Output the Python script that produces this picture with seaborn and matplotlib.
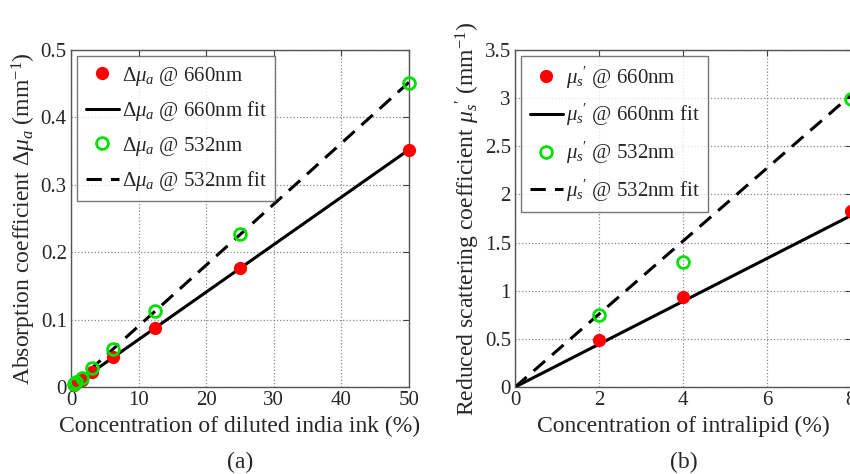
import numpy as np
import pandas as pd
import matplotlib
matplotlib.use('Agg')
import matplotlib.pyplot as plt
import seaborn as sns

# panel (a): diluted india ink
ink_conc = [0.39, 0.78, 1.56, 3.125, 6.25, 12.5, 25, 50]
ink_mua_660 = [0.003, 0.006, 0.011, 0.022, 0.044, 0.087, 0.177, 0.351]
ink_mua_532 = [0.004, 0.008, 0.014, 0.028, 0.056, 0.113, 0.227, 0.451]
ink_fit_x = [0, 50]
ink_fit_660 = [0, 0.352]
ink_fit_532 = [0, 0.452]

# panel (b): intralipid
lip_conc = [2, 4, 8]
lip_mus_660 = [0.49, 0.94, 1.83]
lip_mus_532 = [0.75, 1.30, 2.99]
lip_fit_x = [0, 8]
lip_fit_660 = [0, 1.78]
lip_fit_532 = [0, 3.03]

sns.set_style('white')
plt.rcParams['font.family'] = ['Liberation Serif', 'DejaVu Serif']
plt.rcParams['mathtext.fontset'] = 'custom'
plt.rcParams['mathtext.rm'] = 'Liberation Serif'
plt.rcParams['mathtext.it'] = 'Liberation Serif:italic'
plt.rcParams['mathtext.bf'] = 'Liberation Serif:bold'
plt.rcParams['font.size'] = 15

fig = plt.figure(figsize=(8.5, 4.74), dpi=100)
ax1 = fig.add_axes([0.0835, 0.1835, 0.3975, 0.711])
ax2 = fig.add_axes([0.606, 0.1835, 0.395, 0.711])


def draw(ax, x, y660, y532, fx, f660, f532, sym):
    pts = pd.DataFrame({'x': x, 'y660': y660, 'y532': y532})
    fit = pd.DataFrame({'x': fx, 'f660': f660, 'f532': f532})
    sns.lineplot(data=fit, x='x', y='f660', ax=ax, color='black', lw=2.2)
    l2 = ax.lines[-1]
    sns.lineplot(data=fit, x='x', y='f532', ax=ax, color='black', lw=2.2)
    l4 = ax.lines[-1]
    l4.set_dashes([5, 3])
    l1, = ax.plot(pts['x'], pts['y660'], 'o', color='#ff0000', ms=8.5, mec='#ff0000', clip_on=False, zorder=5)
    l3, = ax.plot(pts['x'], pts['y532'], 'o', mfc='none', mec='#00e000', mew=2, ms=8.5, clip_on=False, zorder=5)
    labels = [sym + ' @ 660nm', sym + ' @ 660nm fit', sym + ' @ 532nm', sym + ' @ 532nm fit']
    leg = ax.legend([l1, l2, l3, l4], labels, loc='upper left', fontsize=15, frameon=True,
                    fancybox=False, edgecolor='#555555', handlelength=1.6, handletextpad=0.15,
                    borderpad=0.4, labelspacing=0.55, borderaxespad=0.3)
    leg.get_frame().set_linewidth(1.0)
    ax.grid(True, linestyle=':', color='#888888', lw=0.9)
    ax.tick_params(direction='in', top=True, right=True, length=4, labelsize=15, color='#444444', pad=3)
    for s in ax.spines.values():
        s.set_color('#555555')
        s.set_linewidth(1.0)


draw(ax1, ink_conc, ink_mua_660, ink_mua_532, ink_fit_x, ink_fit_660, ink_fit_532,
     r'$\mathit{Δ\mu}_{\mathit{a}}$')
ax1.set_xlim(0, 50)
ax1.set_ylim(0, 0.5)
ax1.set_xticks([0, 10, 20, 30, 40, 50])
ax1.set_yticks([0, 0.1, 0.2, 0.3, 0.4, 0.5])
ax1.set_yticklabels(['0', '0.1', '0.2', '0.3', '0.4', '0.5'])
ax1.set_xlabel('Concentration of diluted india ink (%)', fontsize=17, labelpad=4)
ax1.set_ylabel(r'Absorption coefficient $\mathit{Δ\mu}_{\mathit{a}}$ (mm$^{-1}$)', fontsize=17, labelpad=2)

draw(ax2, lip_conc, lip_mus_660, lip_mus_532, lip_fit_x, lip_fit_660, lip_fit_532,
     r"$\mathit{\mu}_{\mathit{s}}{}'$")
ax2.set_xlim(0, 8)
ax2.set_ylim(0, 3.5)
ax2.set_xticks([0, 2, 4, 6, 8])
ax2.set_yticks([0, 0.5, 1, 1.5, 2, 2.5, 3, 3.5])
ax2.set_yticklabels(['0', '0.5', '1', '1.5', '2', '2.5', '3', '3.5'])
ax2.set_xlabel('Concentration of intralipid (%)', fontsize=17, labelpad=4)
ax2.set_ylabel(r"Reduced scattering coefficient $\mathit{\mu}_{\mathit{s}}{}'$ (mm$^{-1}$)", fontsize=17, labelpad=2)

fig.text(0.283, 0.012, '(a)', ha='center', fontsize=17)
fig.text(0.804, 0.012, '(b)', ha='center', fontsize=17)

fig.savefig('out.png', dpi=100)
